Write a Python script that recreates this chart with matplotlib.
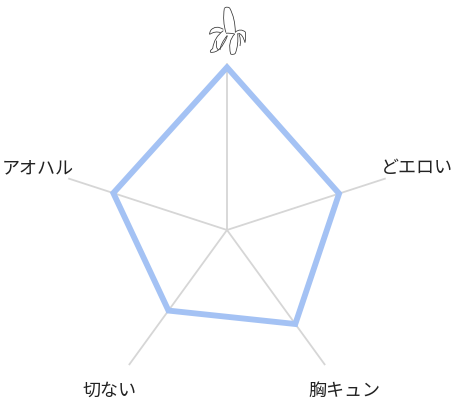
import numpy as np
import matplotlib
matplotlib.use('Agg')
import matplotlib.pyplot as plt
from matplotlib.path import Path
from matplotlib.patches import PathPatch

plt.rcParams['font.family'] = ['Noto Sans CJK JP', 'DejaVu Sans']

labels = ['', 'どエロい', '胸キュン', '切ない', 'アオハル']
values = [98, 71, 70, 60, 72]
axis_max = 100

W, H = 459, 405
cx, cy, rad = 227, 230, 166

# banana icon strokes, each one is start point then quadratic ctrl/end pairs
banana = [
    [(103, 25), (97, 65), (108, 98)],
    [(103, 25), (110, 18), (119, 24), (136, 55), (136, 98)],
    [(100, 88), (78, 74), (63, 90), (57, 100), (59, 103), (76, 92), (92, 98)],
    [(136, 96), (152, 84), (166, 96), (168, 112), (165, 128), (158, 102), (146, 100)],
    [(100, 92), (72, 112), (68, 146), (58, 152), (62, 157), (92, 160), (112, 108)],
    [(80, 122), (76, 145), (86, 150)],
    [(108, 100), (118, 98), (134, 102)],
    [(112, 106), (92, 130), (90, 150)],
    [(134, 102), (112, 125), (122, 162), (130, 166), (136, 160), (146, 135), (143, 100)],
    [(146, 100), (154, 118), (150, 138)],
]


def draw_banana(fig):
    # icon axes covers the part of the picture the icon sits in
    x0, y0, s = 190, 0, 80
    iax = fig.add_axes([x0 / W, 1 - (y0 + s) / H, s / W, s / H])
    iax.set_xlim(0, 240)
    iax.set_ylim(240, 0)
    iax.axis('off')
    for pts in banana:
        codes = [Path.MOVETO] + [Path.CURVE3] * (len(pts) - 1)
        iax.add_patch(PathPatch(Path(pts, codes), fc='none', ec='#333333', lw=0.55))


fig = plt.figure(figsize=(W / 100, H / 100), dpi=100)
ax = fig.add_axes([(cx - rad) / W, 1 - (cy + rad) / H, 2 * rad / W, 2 * rad / H], polar=True)
ax.set_theta_zero_location('N')
ax.set_theta_direction(-1)
ax.set_ylim(0, axis_max)
ax.axis('off')

angles = np.arange(len(values)) * 2 * np.pi / len(values)

for a in angles:
    ax.plot([a, a], [0, axis_max], color='#d6d6d6', lw=1.3, zorder=1, clip_on=False)

ax.fill(angles, values, fill=False, edgecolor='#a4c2f4', lw=4.2, joinstyle='miter', zorder=2)

for a, lab in zip(angles, labels):
    if lab:
        ax.text(a, axis_max * 1.2, lab, ha='center', va='center', fontsize=13,
                color='#222222', clip_on=False)

draw_banana(fig)

fig.savefig('out.png', dpi=100)
